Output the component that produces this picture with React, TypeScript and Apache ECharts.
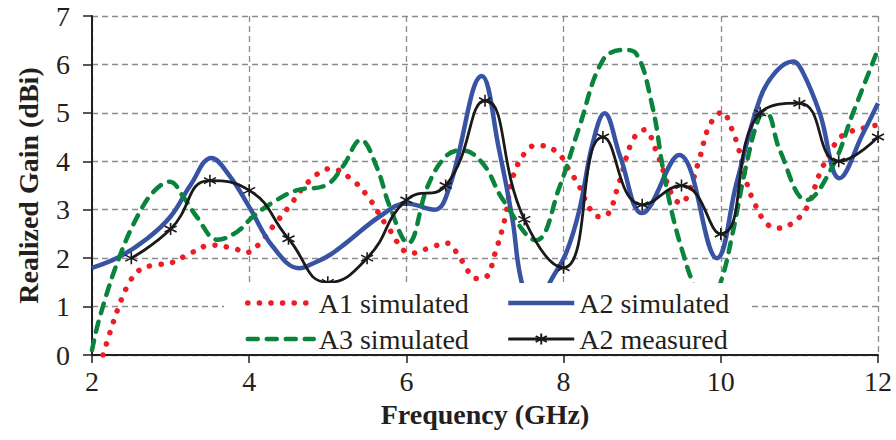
import React, { useEffect, useRef } from "react";
import * as echarts from "echarts";

// A1 simulated (red dotted)
const a1Freq = [2.14, 2.24, 2.34, 2.46, 2.6, 2.8, 3.0, 3.25, 3.52, 3.8, 3.98, 4.12, 4.3, 4.5, 4.77, 5.04, 5.3, 5.51, 5.76, 6.06, 6.34, 6.51, 6.7, 6.89, 7.02, 7.12, 7.25, 7.36, 7.52, 7.65, 7.91, 8.07, 8.2, 8.33, 8.44, 8.54, 8.71, 8.88, 9.03, 9.18, 9.39, 9.5, 9.6, 9.73, 9.86, 10.03, 10.11, 10.22, 10.32, 10.43, 10.58, 10.72, 10.87, 11.09, 11.26, 11.47, 11.6, 11.85, 12.0];
const a1Gain = [0.0, 0.52, 1.0, 1.45, 1.75, 1.86, 1.9, 2.1, 2.27, 2.2, 2.12, 2.28, 2.65, 3.05, 3.6, 3.85, 3.63, 3.27, 2.65, 2.1, 2.24, 2.31, 1.96, 1.58, 1.62, 2.06, 2.79, 3.7, 4.2, 4.33, 4.2, 3.82, 3.48, 3.03, 2.86, 2.88, 3.58, 4.44, 4.65, 4.2, 3.27, 3.13, 3.4, 4.06, 4.75, 5.02, 4.78, 4.3, 3.61, 3.13, 2.72, 2.62, 2.68, 3.03, 3.75, 4.4, 4.58, 4.7, 4.75];

// A2 simulated (blue solid)
const a2SimFreq = [2.0, 2.35, 2.7, 3.0, 3.25, 3.52, 3.75, 4.0, 4.3, 4.64, 4.81, 5.02, 5.23, 5.66, 6.0, 6.36, 6.55, 6.96, 7.18, 7.35, 7.46, 7.64, 7.82, 8.03, 8.2, 8.37, 8.52, 8.72, 9.0, 9.47, 9.95, 10.2, 10.5, 10.7, 10.92, 11.04, 11.26, 11.51, 11.81, 12.0];
const a2SimGain = [1.8, 2.03, 2.4, 2.86, 3.5, 4.07, 3.7, 3.06, 2.24, 1.79, 1.89, 2.06, 2.31, 2.86, 3.13, 3.0, 3.48, 5.76, 4.23, 2.79, 1.55, 0.8, 1.48, 2.1, 2.99, 4.37, 4.99, 4.1, 2.93, 4.13, 2.0, 3.55, 5.3, 5.85, 6.06, 5.85, 4.99, 3.65, 4.58, 5.2];

// A3 simulated (green dashed)
const a3Freq = [2.0, 2.1, 2.35, 2.6, 2.8, 2.99, 3.16, 3.33, 3.6, 3.85, 4.05, 4.3, 4.6, 4.98, 5.19, 5.42, 5.62, 5.79, 6.02, 6.27, 6.5, 6.7, 6.97, 7.23, 7.65, 7.95, 8.2, 8.5, 8.76, 8.92, 9.13, 9.26, 9.39, 9.52, 9.64, 9.82, 10.0, 10.15, 10.32, 10.49, 10.58, 10.75, 11.09, 11.42, 11.68, 11.98];
const a3Gain = [0.1, 0.79, 2.03, 2.93, 3.4, 3.58, 3.27, 2.86, 2.38, 2.55, 2.86, 3.15, 3.4, 3.51, 3.89, 4.44, 3.89, 3.06, 2.31, 3.48, 4.1, 4.23, 3.96, 3.2, 2.37, 3.48, 4.71, 6.09, 6.3, 6.23, 5.13, 3.89, 2.86, 2.1, 1.51, 0.9, 1.51, 2.51, 3.89, 4.92, 4.99, 4.23, 3.2, 3.89, 4.99, 6.23];

// A2 measured (black with markers)
const a2MeasFreq = [2.5, 3.0, 3.5, 4.0, 4.5, 5.0, 5.5, 6.0, 6.5, 7.0, 7.5, 8.0, 8.5, 9.0, 9.5, 10.0, 10.5, 11.0, 11.5, 12.0];
const a2MeasGain = [2.0, 2.6, 3.6, 3.4, 2.4, 1.5, 2.0, 3.2, 3.5, 5.25, 2.8, 1.8, 4.5, 3.1, 3.5, 2.5, 5.0, 5.2, 4.0, 4.5];

const seriesNames = ["A1 simulated", "A2 simulated", "A3 simulated", "A2 measured"];
const xTicks = { min: 2, max: 12, interval: 2 };
const yTicks = { min: 0, max: 7, interval: 1 };

const zip = (xs: number[], ys: number[]) => xs.map((x, i) => [x, ys[i]]);

const FONT = "Liberation Serif";
const STAR = "path://M0,-6L0,6M-5.2,-3L5.2,3M-5.2,3L5.2,-3";
const INK = "#231f20";

export default function App() {
  const ref = useRef<HTMLDivElement>(null);
  useEffect(() => {
    if (!ref.current) return;
    const chart = echarts.init(ref.current, null, { renderer: "svg" });
    const legendText = { fontFamily: FONT, fontSize: 28, color: INK, lineHeight: 36 };
    const noSymbol = { opacity: 0 };
    const legendBase = {
      orient: "vertical",
      top: 285,
      padding: 0,
      itemGap: 0,
      itemWidth: 66,
      itemHeight: 14,
      selectedMode: false,
      textStyle: legendText,
      lineStyle: { width: "inherit", type: "inherit", cap: "inherit" },
    };
    chart.setOption({
      animation: false,
      backgroundColor: "#ffffff",
      textStyle: { fontFamily: FONT },
      grid: { left: 92, right: 18, top: 16, bottom: 85 },
      xAxis: {
        type: "value",
        min: xTicks.min,
        max: xTicks.max,
        interval: xTicks.interval,
        name: "Frequency (GHz)",
        nameLocation: "middle",
        nameGap: 45,
        nameTextStyle: { fontFamily: FONT, fontWeight: "bold", fontSize: 28, color: INK },
        axisLine: { show: true, onZero: false, lineStyle: { color: INK, width: 2 } },
        axisTick: { show: true, inside: false, length: 8, lineStyle: { color: INK, width: 1.5 } },
        axisLabel: { fontFamily: FONT, fontSize: 28, color: INK, margin: 12 },
        splitLine: { show: true, lineStyle: { color: "#8c8c8c", width: 1.3, type: [6, 4] } },
      },
      yAxis: {
        type: "value",
        min: yTicks.min,
        max: yTicks.max,
        interval: yTicks.interval,
        name: "Realized Gain (dBi)",
        nameLocation: "middle",
        nameGap: 50,
        nameTextStyle: { fontFamily: FONT, fontWeight: "bold", fontSize: 28, color: INK },
        axisLine: { show: true, onZero: false, lineStyle: { color: INK, width: 2 } },
        axisTick: { show: true, inside: false, length: 9, lineStyle: { color: INK, width: 1.5 } },
        axisLabel: { fontFamily: FONT, fontSize: 28, color: INK, margin: 22 },
        splitLine: { show: true, lineStyle: { color: "#8c8c8c", width: 1.3, type: [6, 4] } },
      },
      graphic: [
        {
          type: "rect",
          z: 3,
          shape: { x: 224, y: 283, width: 525, height: 71 },
          style: { fill: "#ffffff" },
          silent: true,
        },
      ],
      legend: [
        {
          ...legendBase,
          left: 245,
          data: [
            { name: seriesNames[0], itemStyle: noSymbol },
            { name: seriesNames[2], itemStyle: noSymbol },
          ],
        },
        {
          ...legendBase,
          left: 506,
          data: [
            { name: seriesNames[1], itemStyle: noSymbol },
            { name: seriesNames[3] },
          ],
        },
      ],
      series: [
        {
          name: seriesNames[0],
          type: "line",
          data: zip(a1Freq, a1Gain),
          smooth: 0.4,
          symbol: "none",
          color: "#ee1c25",
          lineStyle: { color: "#ee1c25", width: 5.5, type: [0.1, 11.5], cap: "round" },
          z: 2,
        },
        {
          name: seriesNames[1],
          type: "line",
          data: zip(a2SimFreq, a2SimGain),
          smooth: 0.4,
          symbol: "none",
          color: "#3953a4",
          lineStyle: { color: "#3953a4", width: 4.5 },
          z: 2,
        },
        {
          name: seriesNames[2],
          type: "line",
          data: zip(a3Freq, a3Gain),
          smooth: 0.4,
          symbol: "none",
          color: "#0a843d",
          lineStyle: { color: "#0a843d", width: 4.5, type: [10, 9], cap: "round" },
          z: 2,
        },
        {
          name: seriesNames[3],
          type: "line",
          data: zip(a2MeasFreq, a2MeasGain),
          smooth: 0.5,
          symbol: STAR,
          symbolSize: 12,
          showSymbol: true,
          color: "#1a1a1a",
          itemStyle: { color: "#1a1a1a", borderColor: "#1a1a1a", borderWidth: 1.6 },
          lineStyle: { color: "#1a1a1a", width: 2.8 },
          z: 2,
        },
      ],
    });
    return () => chart.dispose();
  }, []);
  return (
    <div
      ref={ref}
      style={{ position: "fixed", left: 0, top: 0, width: 896, height: 440 }}
    />
  );
}
